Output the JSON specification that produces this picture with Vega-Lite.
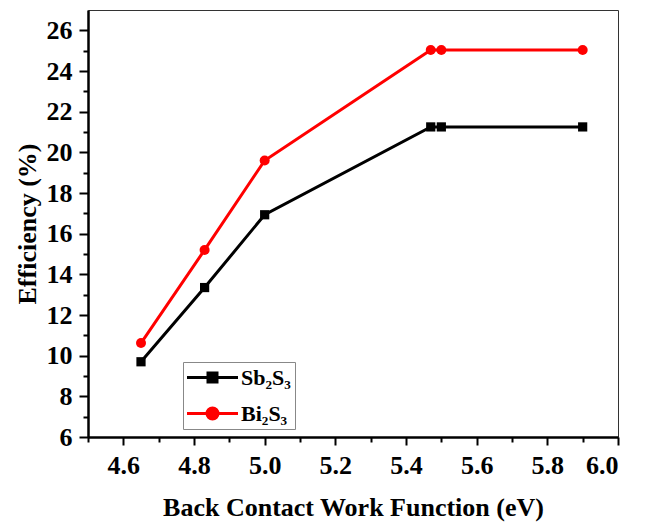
{
  "$schema": "https://vega.github.io/schema/vega-lite/v6.json",
  "autosize": "none",
  "width": 530,
  "height": 427,
  "padding": {"left": 88, "top": 10, "right": 32, "bottom": 89},
  "background": "white",
  "config": {
    "view": {"stroke": "#333333", "strokeWidth": 1},
    "axis": {
      "domainColor": "black",
      "domainWidth": 2.5,
      "tickColor": "black",
      "tickWidth": 2,
      "grid": false,
      "labelFont": "Liberation Serif",
      "labelFontWeight": "bold",
      "labelFontSize": 26,
      "labelColor": "black",
      "titleFont": "Liberation Serif",
      "titleFontWeight": "bold",
      "titleFontSize": 26,
      "titleColor": "black"
    },
    "legend": {
      "labelFont": "Liberation Serif",
      "labelFontWeight": "bold",
      "labelFontSize": 22,
      "labelColor": "black"
    }
  },
  "data": {
    "values": [
      {"wf": 4.65, "eff": 9.7, "material": "Sb₂S₃"},
      {"wf": 4.83, "eff": 13.35, "material": "Sb₂S₃"},
      {"wf": 5.0, "eff": 16.93, "material": "Sb₂S₃"},
      {"wf": 5.47, "eff": 21.25, "material": "Sb₂S₃"},
      {"wf": 5.5, "eff": 21.25, "material": "Sb₂S₃"},
      {"wf": 5.9, "eff": 21.25, "material": "Sb₂S₃"},
      {"wf": 4.65, "eff": 10.62, "material": "Bi₂S₃"},
      {"wf": 4.83, "eff": 15.2, "material": "Bi₂S₃"},
      {"wf": 5.0, "eff": 19.6, "material": "Bi₂S₃"},
      {"wf": 5.47, "eff": 25.03, "material": "Bi₂S₃"},
      {"wf": 5.5, "eff": 25.03, "material": "Bi₂S₃"},
      {"wf": 5.9, "eff": 25.03, "material": "Bi₂S₃"}
    ]
  },
  "layer": [
    {
      "mark": {"type": "line", "strokeWidth": 3},
      "encoding": {
        "x": {
          "field": "wf", "type": "quantitative",
          "scale": {"domain": [4.5, 6.0], "nice": false, "zero": false},
          "axis": {
            "values": [4.6, 4.8, 5.0, 5.2, 5.4, 5.6, 5.8, 6.0],
            "format": ".1f",
            "tickSize": 8,
            "labelPadding": 7,
            "title": "Back Contact Work Function (eV)",
            "titlePadding": 16
          }
        },
        "y": {
          "field": "eff", "type": "quantitative",
          "scale": {"domain": [6, 27], "nice": false, "zero": false},
          "axis": {
            "values": [6, 8, 10, 12, 14, 16, 18, 20, 22, 24, 26],
            "tickSize": 9,
            "labelPadding": 7,
            "title": "Efficiency (%)",
            "titlePadding": 6
          }
        },
        "color": {
          "field": "material", "type": "nominal",
          "scale": {"domain": ["Sb₂S₃", "Bi₂S₃"], "range": ["black", "#ff0000"]},
          "legend": {
            "title": null,
            "orient": "none",
            "legendX": 95,
            "legendY": 352,
            "padding": 4,
            "strokeColor": "#888888",
            "fillColor": "white",
            "symbolSize": 400,
            "symbolStrokeWidth": 3,
            "labelOffset": 31,
            "rowPadding": 13,
            "labelBaseline": "middle",
            "encode": {
              "symbols": {
                "update": {
                  "shape": {"signal": "datum.value === 'Sb₂S₃' ? 'M-1.15,0H3.95M0.95,-0.45H1.85V0.45H0.95Z' : 'M-1.15,0H3.95M1.95,0A0.55,0.55,0,1,1,0.85,0A0.55,0.55,0,1,1,1.95,0Z'"},
                  "fill": {"signal": "datum.value === 'Sb₂S₃' ? 'black' : '#ff0000'"},
                  "stroke": {"signal": "datum.value === 'Sb₂S₃' ? 'black' : '#ff0000'"},
                  "strokeWidth": {"value": 3},
                  "opacity": {"value": 1}
                }
              }
            }
          }
        }
      }
    },
    {
      "transform": [{"filter": "datum.material === 'Sb₂S₃'"}],
      "mark": {"type": "point", "filled": true, "opacity": 1, "shape": "square", "color": "black", "size": 85},
      "encoding": {
        "x": {"field": "wf", "type": "quantitative", "axis": null},
        "y": {"field": "eff", "type": "quantitative", "axis": null}
      }
    },
    {
      "transform": [{"filter": "datum.material === 'Bi₂S₃'"}],
      "mark": {"type": "point", "filled": true, "opacity": 1, "shape": "circle", "color": "#ff0000", "size": 100},
      "encoding": {
        "x": {"field": "wf", "type": "quantitative", "axis": null},
        "y": {"field": "eff", "type": "quantitative", "axis": null}
      }
    },
    {
      "mark": {"type": "point", "opacity": 0},
      "encoding": {
        "x": {
          "field": "wf", "type": "quantitative",
          "axis": {
            "orient": "bottom",
            "values": [4.5, 4.7, 4.9, 5.1, 5.3, 5.5, 5.7, 5.9],
            "labels": false,
            "domain": false,
            "tickSize": 5,
            "title": null
          }
        },
        "y": {
          "field": "eff", "type": "quantitative",
          "axis": {
            "orient": "left",
            "values": [7, 9, 11, 13, 15, 17, 19, 21, 23, 25],
            "labels": false,
            "domain": false,
            "tickSize": 5,
            "title": null
          }
        }
      }
    }
  ],
  "resolve": {"axis": {"x": "independent", "y": "independent"}}
}
